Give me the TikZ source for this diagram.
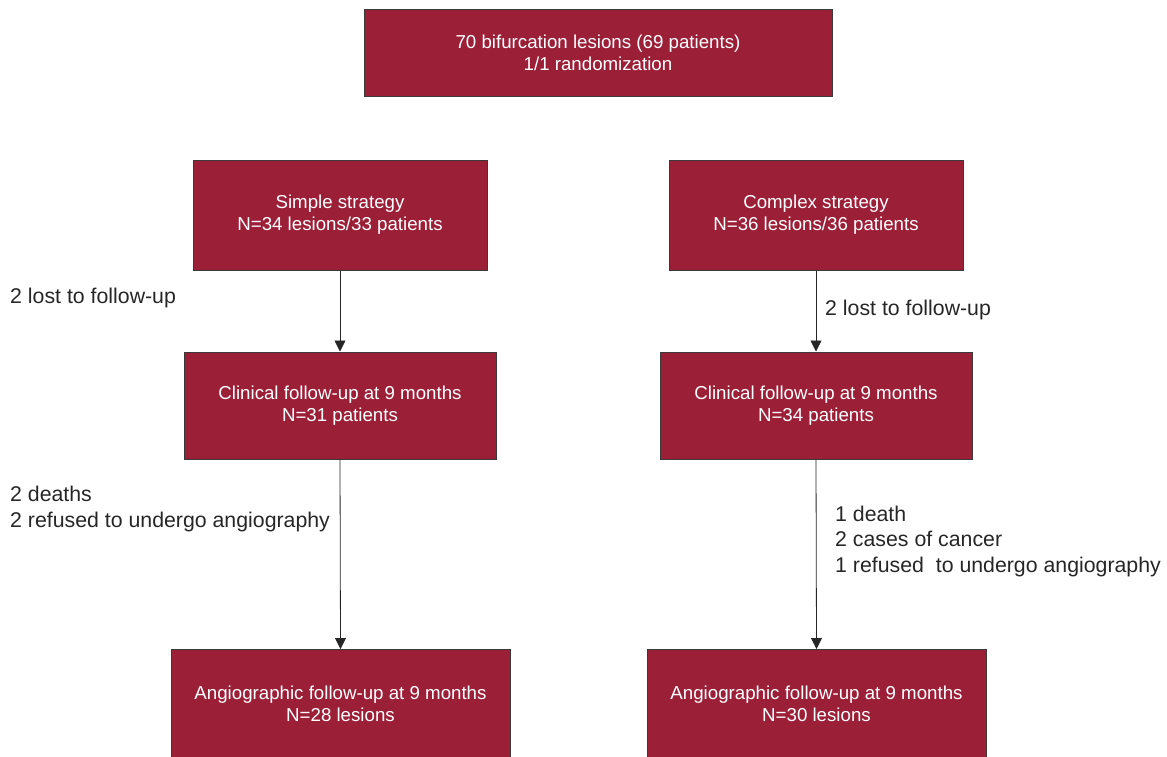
\documentclass[tikz,border=0pt]{standalone}
\usepackage{fontspec}
\setmainfont{Liberation Sans}
\usetikzlibrary{arrows.meta}
\definecolor{boxred}{HTML}{9B1F37}
\definecolor{boxedge}{HTML}{3A3A3A}
\tikzset{
  x=1pt,y=-1pt,
  fbox/.style={draw=boxedge,line width=1pt,fill=boxred,text=white,font=\fontsize{18.7}{22}\selectfont,align=center,inner sep=0pt},
  conn/.style={draw=black!85,line width=0.8pt,-{Triangle[length=11pt,width=11pt]}},
  side/.style={anchor=west,align=left,font=\fontsize{21.3}{25.5}\selectfont,text=black!85,inner sep=0pt}
}
\begin{document}
\begin{tikzpicture}
\useasboundingbox (0,0) rectangle (1167,756);
\begin{scope}
\clip (0,0) rectangle (1167,756);
\node[fbox,minimum width=468pt,minimum height=87pt] (top) at (598,52.5) {70 bifurcation lesions (69 patients)\\1/1 randomization};
\node[fbox,minimum width=294pt,minimum height=110pt] (simple) at (340,215) {Simple strategy\\N=34 lesions/33 patients};
\node[fbox,minimum width=294pt,minimum height=110pt] (complex) at (816,215) {Complex strategy\\N=36 lesions/36 patients};
\node[fbox,minimum width=312pt,minimum height=107pt] (clinL) at (340,405.5) {Clinical follow-up at 9 months\\N=31 patients};
\node[fbox,minimum width=312pt,minimum height=107pt] (clinR) at (816,405.5) {Clinical follow-up at 9 months\\N=34 patients};
\node[fbox,minimum width=339pt,minimum height=108pt] (angL) at (340.5,703.5) {Angiographic follow-up at 9 months\\N=28 lesions};
\node[fbox,minimum width=339pt,minimum height=108pt] (angR) at (816.5,703.5) {Angiographic follow-up at 9 months\\N=30 lesions};
\end{scope}
\draw[conn] (simple.south) -- (clinL.north);
\draw[conn] (complex.south) -- (clinR.north);
\draw[conn] (clinL.south) -- (angL.north);
\draw[conn] (clinR.south) -- (angR.north);
\node[side] (l1) at (10,298) {2 lost to follow-up};
\node[side] (r1) at (825,310) {2 lost to follow-up};
\node[side] (l2) at (10,509) {2 deaths\\2 refused to undergo angiography};
\node[side] (r2) at (835,541) {1 death\\2 cases of cancer\\1 refused\ \ to undergo angiography};
\end{tikzpicture}
\end{document}
